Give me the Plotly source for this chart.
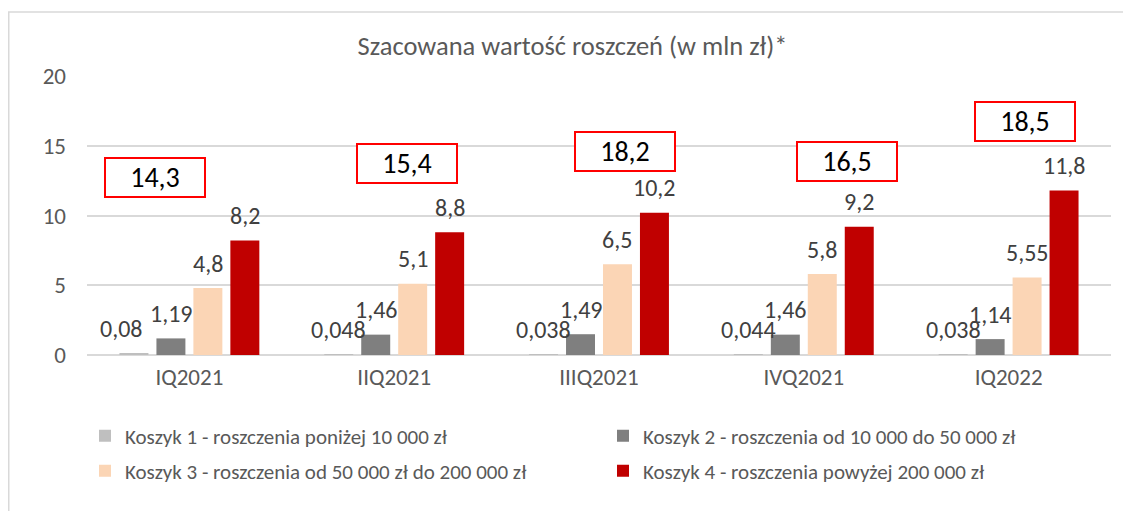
import plotly.graph_objects as go

categories = ["IQ2021", "IIQ2021", "IIIQ2021", "IVQ2021", "IQ2022"]
series_names = [
    "Koszyk 1 - roszczenia poniżej 10 000 zł",
    "Koszyk 2 - roszczenia od 10 000 do 50 000 zł",
    "Koszyk 3 - roszczenia od 50 000 zł do 200 000 zł",
    "Koszyk 4 - roszczenia powyżej 200 000 zł",
]
koszyk1 = [0.08, 0.048, 0.038, 0.044, 0.038]
koszyk2 = [1.19, 1.46, 1.49, 1.46, 1.14]
koszyk3 = [4.8, 5.1, 6.5, 5.8, 5.55]
koszyk4 = [8.2, 8.8, 10.2, 9.2, 11.8]
koszyk1_labels = ["0,08", "0,048", "0,038", "0,044", "0,038"]
koszyk2_labels = ["1,19", "1,46", "1,49", "1,46", "1,14"]
koszyk3_labels = ["4,8", "5,1", "6,5", "5,8", "5,55"]
koszyk4_labels = ["8,2", "8,8", "10,2", "9,2", "11,8"]
totals_labels = ["14,3", "15,4", "18,2", "16,5", "18,5"]

# placement of the red boxed totals (category offset, y in axis units)
box_dx = [-0.17, 0.063, 0.127, 0.21, 0.078]
box_y = [12.7, 13.76, 14.59, 13.87, 16.77]

colors = ["#BFBFBF", "#7F7F7F", "#FBD5B5", "#C00000"]
FONT = "Carlito, Calibri, Lato, sans-serif"
TXT = "#595959"

values = [koszyk1, koszyk2, koszyk3, koszyk4]
labels = [koszyk1_labels, koszyk2_labels, koszyk3_labels, koszyk4_labels]
legend_ids = ["legend", "legend", "legend2", "legend2"]

W, H = 1123, 503
ML, MR, MT, MB = 79, 20, 68, 156
PW, PH = W - ML - MR, H - MT - MB

BARGAP = 0.278
fig = go.Figure()
for i in range(4):
    fig.add_trace(go.Bar(
        x=categories, y=values[i], name=series_names[i],
        marker=dict(color=colors[i], line=dict(width=0)),
        legend=legend_ids[i], hoverinfo="skip",
    ))

annotations = []
slot = (1 - BARGAP) / 4
for i in range(4):
    for j, cat in enumerate(categories):
        xshift = -13 if (i == 0 and j == 0) else 0
        annotations.append(dict(
            x=j + (i - 1.5) * slot, y=values[i][j], xref="x", yref="y",
            text=labels[i][j], showarrow=False, yanchor="middle",
            yshift=25, xshift=xshift,
            font=dict(family=FONT, size=24, color="#404040"),
        ))
for j in range(len(categories)):
    annotations.append(dict(
        x=j + box_dx[j], y=box_y[j], xref="x", yref="y",
        text=totals_labels[j], showarrow=False,
        xanchor="center", yanchor="middle",
        width=96, height=35, borderpad=1, borderwidth=2,
        bordercolor="#FF0000", bgcolor="white",
        font=dict(family=FONT, size=28, color="#000000"),
    ))

fig.update_layout(
    width=W, height=H,
    margin=dict(l=ML, r=MR, t=MT, b=MB),
    paper_bgcolor="white", plot_bgcolor="white",
    barmode="group", bargap=BARGAP, bargroupgap=0.216,
    title=dict(text="Szacowana wartość roszczeń (w mln zł)*",
               x=564.5 / W, xanchor="center", y=1 - 38 / H, yanchor="middle",
               font=dict(family=FONT, size=26.5, color=TXT)),
    font=dict(family=FONT, color=TXT),
    xaxis=dict(showgrid=False, showline=False, ticks="",
               tickfont=dict(family=FONT, size=23, color=TXT),
               ticklabelstandoff=6),
    yaxis=dict(range=[0, 20], dtick=5, showgrid=True, gridcolor="#D9D9D9",
               gridwidth=1.5, zeroline=True, zerolinecolor="#D9D9D9",
               zerolinewidth=1.5, showline=False,
               tickfont=dict(family=FONT, size=23, color=TXT),
               ticklabelstandoff=20),
    legend=dict(orientation="h", x=-2 / PW, xanchor="left", y=-81 / PH,
                yanchor="middle", entrywidth=473,
                font=dict(family=FONT, size=21, color=TXT),
                itemclick=False, itemdoubleclick=False),
    legend2=dict(orientation="h", x=-2 / PW, xanchor="left", y=-116 / PH,
                 yanchor="middle", entrywidth=473,
                 font=dict(family=FONT, size=21, color=TXT),
                 itemclick=False, itemdoubleclick=False),
    annotations=annotations,
    shapes=[dict(type="rect", xref="paper", yref="paper",
                 x0=(0.75 - ML) / PW, x1=(W + 20 - ML) / PW,
                 y0=(PH + 40 - (H - MT)) / PH - 0.2, y1=(PH + MT - 4) / PH,
                 line=dict(color="#D9D9D9", width=1.5), layer="below")],
)

fig.write_html("out.html")
